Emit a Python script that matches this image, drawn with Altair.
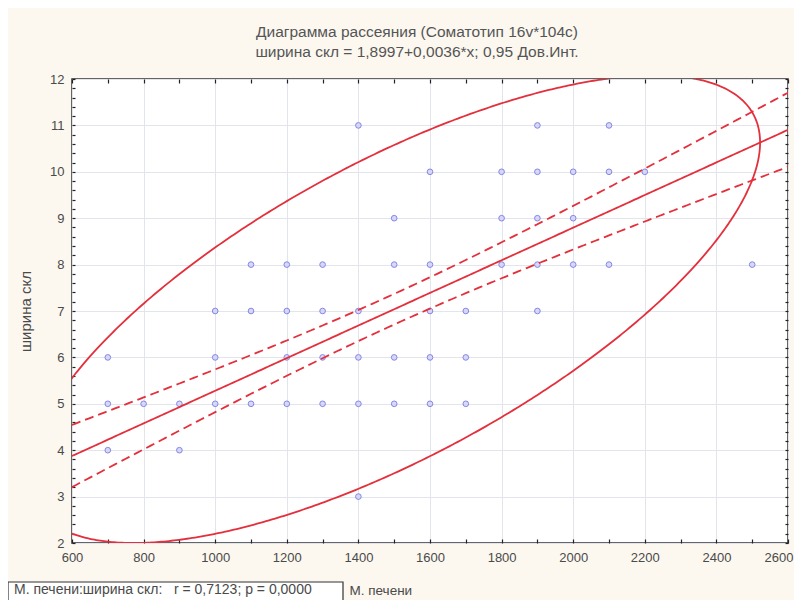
import altair as alt
import numpy as np
import pandas as pd

# ---- scatter data (M. печени, ширина скл) ----
liver_mass = [1400, 1900, 2100,
              1600, 1800, 1900, 2000, 2100, 2200,
              1500, 1800, 1900, 2000,
              1100, 1200, 1300, 1500, 1600, 1800, 1900, 2000, 2100, 2500,
              1000, 1100, 1200, 1300, 1400, 1600, 1700, 1900,
              700, 1000, 1200, 1300, 1400, 1500, 1600, 1700,
              700, 800, 900, 1000, 1100, 1200, 1300, 1400, 1500, 1600, 1700,
              700, 900,
              1400]
width_skl = [11, 11, 11,
             10, 10, 10, 10, 10, 10,
             9, 9, 9, 9,
             8, 8, 8, 8, 8, 8, 8, 8, 8, 8,
             7, 7, 7, 7, 7, 7, 7, 7,
             6, 6, 6, 6, 6, 6, 6, 6,
             5, 5, 5, 5, 5, 5, 5, 5, 5, 5, 5,
             4, 4,
             3]

# ---- fitted statistics ----
fit_intercept = 1.766
fit_slope = 0.003515
band_center_x = 1490.0
band_a = 0.109
band_b = 4.29e-7
ell_cx, ell_cy = 1500.0, 7.04
ell_ax, ell_ay = 1022.0, 5.04
ell_r = 0.7123

x_ticks = list(range(600, 2601, 200))
x_minor = list(range(600, 2601, 100))
y_ticks = list(range(2, 13))
y_minor = [round(2 + 0.2 * i, 1) for i in range(51)]

title_1 = "Диаграмма рассеяния (Соматотип 16v*104c)"
title_2 = "ширина скл = 1,8997+0,0036*x; 0,95 Дов.Инт."
x_title = "М. печени"
y_title = "ширина скл"
stat_text = "М. печени:ширина скл:\u00a0\u00a0\u00a0r = 0,7123; p = 0,0000"

# ---- derived tables ----
pts = pd.DataFrame({"x": liver_mass, "y": width_skl})
xs = np.linspace(600, 2600, 201)
yhat = fit_intercept + fit_slope * xs
hw = np.sqrt(band_a + band_b * (xs - band_center_x) ** 2)
fit = pd.DataFrame({"x": xs, "y": yhat})
up = pd.DataFrame({"x": xs, "y": yhat + hw})
lo = pd.DataFrame({"x": xs, "y": yhat - hw})
t = np.linspace(0, 2 * np.pi, 721)
ell = pd.DataFrame({
    "x": ell_cx + ell_ax * np.cos(t),
    "y": ell_cy + ell_ay * (ell_r * np.cos(t) + np.sqrt(1 - ell_r ** 2) * np.sin(t)),
    "o": np.arange(len(t)),
})

FONT = "Liberation Sans"
RED = "#e3303c"
TXT = "#4a4a4a"
W, H = 716, 464

xs_scale = alt.Scale(domain=[600, 2600], nice=False, zero=False)
ys_scale = alt.Scale(domain=[2, 12], nice=False, zero=False)

points = alt.Chart(pts).mark_circle(
    size=32, color="#d4d4f8", stroke="#7a7ae4", strokeWidth=1, opacity=0.9
).encode(
    x=alt.X("x:Q", scale=xs_scale, axis=alt.Axis(
        orient="bottom", values=x_ticks, format="d", grid=True, gridColor="#e2e5ec",
        ticks=False, tickSize=0, domain=False, labelFontSize=13, labelFont=FONT,
        labelColor=TXT, labelPadding=8, labelFlush=False,
        labelAlign={"condition": {"test": "datum.value >= 2600", "value": "right"}, "value": "center"},
        labelOffset={"condition": {"test": "datum.value >= 2600", "value": 5}, "value": 0},
        title=x_title, titleFont=FONT,
        titleFontSize=13.5, titleFontWeight="normal", titleColor=TXT,
        titleX=277, titleY=47, titleAlign="left", titleBaseline="middle")),
    y=alt.Y("y:Q", scale=ys_scale, axis=alt.Axis(
        orient="left", values=y_ticks, format="d", grid=True, gridColor="#e2e5ec",
        ticks=False, tickSize=0, domain=False, labelFontSize=13, labelFont=FONT,
        labelColor=TXT, labelPadding=8, labelFlush=False, title=y_title, titleFont=FONT,
        titleFontSize=15, titleFontWeight="normal", titleColor=TXT,
        titleX=-47, titleY=H / 2, titleAngle=270, titleAlign="center",
        titleBaseline="middle")),
)

fit_line = alt.Chart(fit).mark_line(color=RED, strokeWidth=1.8, clip=True).encode(
    x=alt.X("x:Q", scale=xs_scale, axis=alt.Axis(
        orient="top", offset=-H, values=x_minor, tickSize=4, tickColor="#222",
        tickWidth=1.2, labels=False, domain=False, grid=False, title=None)),
    y=alt.Y("y:Q", scale=ys_scale, axis=alt.Axis(
        orient="right", offset=-W, values=y_minor, tickSize=3, tickColor="#222",
        tickWidth=1.2, labels=False, domain=False, grid=False, title=None)),
)

upper = alt.Chart(up).mark_line(color=RED, strokeWidth=1.8, strokeDash=[9, 5], clip=True).encode(
    x=alt.X("x:Q", scale=xs_scale, axis=alt.Axis(
        orient="bottom", offset=-H, values=x_minor, tickSize=4, tickColor="#222",
        tickWidth=1.2, labels=False, domain=False, grid=False, title=None)),
    y=alt.Y("y:Q", scale=ys_scale, axis=alt.Axis(
        orient="left", offset=-W, values=y_minor, tickSize=3, tickColor="#222",
        tickWidth=1.2, labels=False, domain=False, grid=False, title=None)),
)

lower = alt.Chart(lo).mark_line(color=RED, strokeWidth=1.8, strokeDash=[9, 5], clip=True).encode(
    x=alt.X("x:Q", scale=xs_scale, axis=None),
    y=alt.Y("y:Q", scale=ys_scale, axis=None),
)

ellipse = alt.Chart(ell).mark_line(color=RED, strokeWidth=1.8, clip=True).encode(
    x=alt.X("x:Q", scale=xs_scale, axis=None),
    y=alt.Y("y:Q", scale=ys_scale, axis=None),
    order="o:Q",
)

one = pd.DataFrame({"k": [0]})
box = alt.Chart(one).mark_rect(fill="white", stroke="#333", strokeWidth=1.2).encode(
    x=alt.value(-64), x2=alt.value(271), y=alt.value(503), y2=alt.value(535)
)
box_text = alt.Chart(one).mark_text(
    align="left", baseline="middle", fontSize=14, font=FONT, color=TXT
).encode(x=alt.value(-58), y=alt.value(511), text=alt.value(stat_text))

chart = alt.layer(points, fit_line, upper, lower, ellipse, box, box_text).resolve_axis(
    x="independent", y="independent"
).properties(
    width=W, height=H,
    autosize=alt.AutoSizeParams(type="none"),
    padding={"left": 64, "top": 71, "right": 6, "bottom": 57},
    background="#fcf8f0",
    title=alt.TitleParams(
        text=title_1, subtitle=title_2, font=FONT, subtitleFont=FONT,
        fontSize=15.5, subtitleFontSize=15.5, fontWeight="normal",
        color="#555", subtitleColor="#555", anchor="middle", dx=-13,
        offset=13, subtitlePadding=4),
).configure_view(stroke="#333", strokeWidth=1.5, fill="white")

chart.save("out.html", embed_options={"renderer": "svg", "actions": False})
